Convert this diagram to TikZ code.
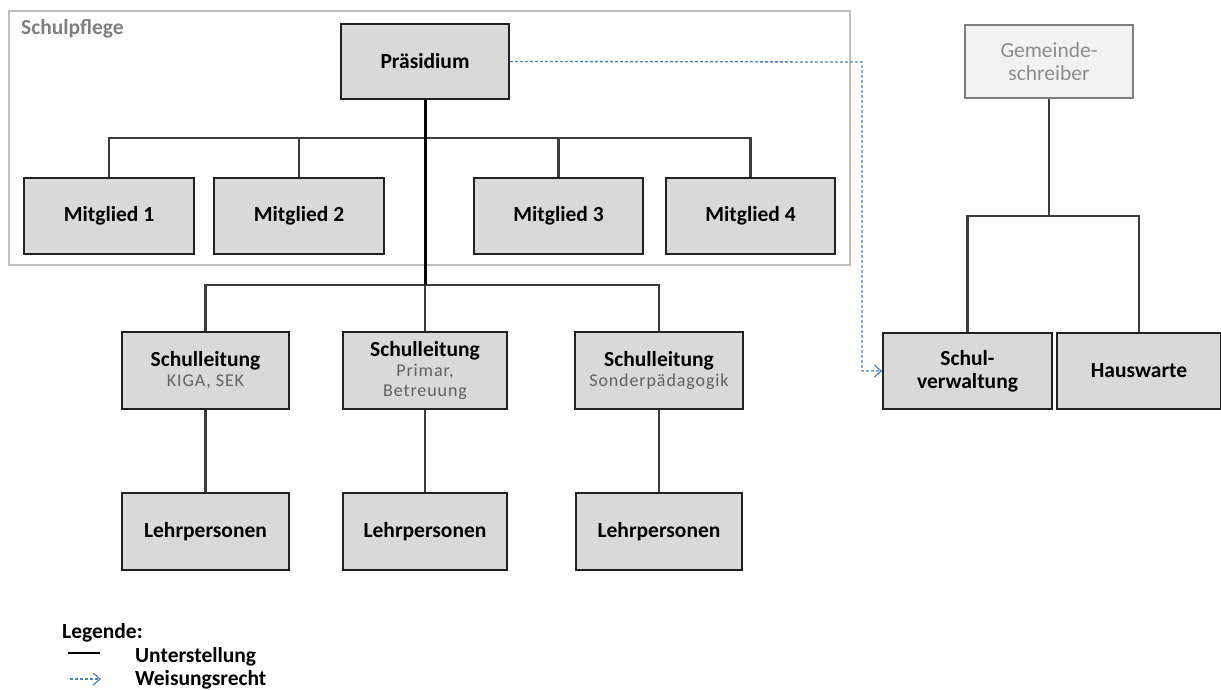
\documentclass[tikz,border=0pt]{standalone}
\usepackage{fontspec}
\setmainfont{Carlito}
\newfontfamily\subf[LetterSpace=5]{Carlito}
\usetikzlibrary{arrows.meta}
\definecolor{boxfill}{HTML}{D9D9D9}
\definecolor{boxline}{HTML}{222222}
\definecolor{connline}{HTML}{3C3C3C}
\definecolor{frameline}{HTML}{BFBFBF}
\definecolor{paleFill}{HTML}{F2F2F2}
\definecolor{paleLine}{HTML}{7F7F7F}
\definecolor{paleText}{HTML}{8C8C8C}
\definecolor{subText}{HTML}{606060}
\definecolor{weisung}{HTML}{4F81BD}
\begin{document}
\begin{tikzpicture}[x=1pt,y=-1pt,
  orgbox/.style={draw=boxline, line width=1.6pt, fill=boxfill, rectangle, inner sep=0pt,
    minimum height=76pt, align=center, font=\fontsize{21.5}{21}\selectfont\bfseries},
  palebox/.style={draw=paleLine, line width=1.4pt, fill=paleFill, rectangle, inner sep=0pt,
    minimum height=73pt, minimum width=168pt, align=center, text=paleText,
    font=\fontsize{21.5}{23}\selectfont},
  conn/.style={draw=connline, line width=2.2pt},
  mainconn/.style={draw=black, line width=3pt},
  weisarrow/.style={draw=weisung, line width=1.3pt, dash pattern=on 3pt off 2pt,
    -{Straight Barb[length=7pt,width=12pt,line width=1.2pt]}},
  sub/.style={},
  lbl/.style={anchor=base west, inner sep=0pt, font=\fontsize{21.5}{23}\selectfont\bfseries}
]
\useasboundingbox (0,0) rectangle (1221,690);

% Schulpflege frame
\draw[draw=frameline, line width=1.5pt] (9,11) rectangle (850,265);
\node[anchor=base west, inner sep=0pt, text=paleLine, font=\fontsize{21.5}{23}\selectfont\bfseries] (sp) at (21,35) {Schulpflege};

% nodes
\node[orgbox, minimum width=168pt, minimum height=75pt] (prae) at (425,61.5) {Präsidium};
\node[orgbox, minimum width=170pt] (m1) at (109,216) {Mitglied 1};
\node[orgbox, minimum width=170pt] (m2) at (299,216) {Mitglied 2};
\node[orgbox, minimum width=169pt] (m3) at (558.5,216) {Mitglied 3};
\node[orgbox, minimum width=169pt] (m4) at (750.5,216) {Mitglied 4};

\node[orgbox, minimum width=167pt, minimum height=77pt] (s1) at (205.5,370.5)
  {Schulleitung\\[-1pt]{\subf\fontsize{18}{21}\selectfont\mdseries\color{subText}KIGA, SEK}};
\node[orgbox, minimum width=164pt, minimum height=77pt] (s2) at (425,370.5)
  {Schulleitung\\[-1pt]{\subf\fontsize{18}{21}\selectfont\mdseries\color{subText}Primar,}\\[-1pt]{\subf\fontsize{18}{21}\selectfont\mdseries\color{subText}Betreuung}};
\node[orgbox, minimum width=168pt, minimum height=77pt] (s3) at (659,370.5)
  {Schulleitung\\[-1pt]{\subf\fontsize{18}{21}\selectfont\mdseries\color{subText}Sonderpädagogik}};

\node[orgbox, minimum width=167pt, minimum height=77pt] (l1) at (205.5,531.5) {Lehrpersonen};
\node[orgbox, minimum width=164pt, minimum height=77pt] (l2) at (425,531.5) {Lehrpersonen};
\node[orgbox, minimum width=166pt, minimum height=77pt] (l3) at (659,531.5) {Lehrpersonen};

\node[palebox] (gs) at (1049,61.5) {Gemeinde-\\schreiber};
\node[orgbox, minimum width=169pt, font=\fontsize{21.5}{23}\selectfont\bfseries] (sv) at (967.5,371) {Schul-\\verwaltung};
\node[orgbox, minimum width=164pt] (hw) at (1139,371) {Hauswarte};

% bus coordinates
\coordinate (busM) at (425,138);
\coordinate (busS) at (425,285);
\coordinate (busR) at (1049,216);
\coordinate (wk) at (862,62);

% connectors Schulpflege
\draw[conn] (m1.north) |- (busM) -| (m4.north);
\draw[conn] (m2.north) -- (m2.north |- busM);
\draw[conn] (m3.north) -- (m3.north |- busM);
\draw[conn] (s1.north) |- (busS) -| (s3.north);
\draw[conn] (s2.north) -- (busS);
\draw[mainconn] (prae.south) -- (busS);

% Schulleitung -> Lehrpersonen
\draw[conn] (s1.south) -- (l1.north);
\draw[conn] (s2.south) -- (l2.north);
\draw[conn] (s3.south) -- (l3.north);

% right side
\draw[conn] (gs.south) -- (busR);
\draw[conn] (sv.north) |- (busR) -| (hw.north);

% Weisungsrecht
\draw[weisarrow] (prae.east) -- (wk) |- (sv.west);

% legend
\node[lbl] (leg) at (62,638) {Legende:};
\coordinate (u1) at (68,653);
\coordinate (u2) at (100,653);
\draw[draw=black, line width=2pt] (u1) -- (u2);
\node[lbl] (ut) at (135,662) {Unterstellung};
\coordinate (w1) at (70,679);
\coordinate (w2) at (101,679);
\draw[weisarrow] (w1) -- (w2);
\node[lbl] (wr) at (135,685) {Weisungsrecht};
\end{tikzpicture}
\end{document}
